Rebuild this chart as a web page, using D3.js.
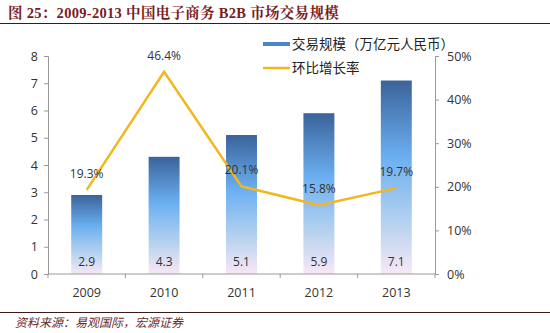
<!DOCTYPE html>
<html><head><meta charset="utf-8">
<script src="https://cdn.jsdelivr.net/npm/d3@7"></script>
<style>
body{margin:0;background:#fff;}
svg{display:block;}
</style></head><body>
<svg id="c" width="550" height="333"></svg>
<script>
const years = ["2009","2010","2011","2012","2013"];
const volume = [2.9, 4.3, 5.1, 5.9, 7.1];
const growth = [19.3, 46.4, 20.1, 15.8, 19.7];
const leftTicks = [0,1,2,3,4,5,6,7,8];
const rightTicks = [0,10,20,30,40,50];
const title = "图 25：2009-2013 中国电子商务 B2B 市场交易规模";
const source = "资料来源：易观国际，宏源证券";
const legendLabels = ["交易规模（万亿元人民币）", "环比增长率"];

const svg = d3.select("#c");
const L = 48, R = 435, T = 56, B = 274;
const numFont = "'Open Sans','Liberation Sans',sans-serif";
const cjkFont = "'Noto Sans CJK SC',sans-serif";

const x = d3.scaleBand().domain(years).range([L, R]).paddingInner(0.6).paddingOuter(0.3);
const xb = d3.scaleBand().domain(years).range([L, R]);
const yL = d3.scaleLinear().domain([0, 8]).range([B, T]);
const yR = d3.scaleLinear().domain([0, 50]).range([B, T]);

const defs = svg.append("defs");
const g = defs.append("linearGradient").attr("id","bg").attr("x1",0).attr("y1",0).attr("x2",0).attr("y2",1);
g.append("stop").attr("offset","0%").attr("stop-color","#3a639a");
g.append("stop").attr("offset","40%").attr("stop-color","#6cb0f2");
g.append("stop").attr("offset","75%").attr("stop-color","#b9d3ef");
g.append("stop").attr("offset","100%").attr("stop-color","#f8e8f6");

// title
svg.append("text").attr("x", 8).attr("y", 18)
  .attr("font-family","'Liberation Serif','Noto Serif CJK SC','Noto Sans CJK SC',serif")
  .attr("font-weight","bold").attr("font-size",14.5).attr("letter-spacing",0.3).attr("fill","#7a1c1c").text(title);
svg.append("line").attr("x1",0).attr("x2",550).attr("y1",23.5).attr("y2",23.5).attr("stroke","#3a1a1a").attr("stroke-width",1.2);

// bars
svg.selectAll("rect.bar").data(volume).enter().append("rect")
  .attr("x",(d,i)=>x(years[i])).attr("width",x.bandwidth())
  .attr("y",d=>yL(d)).attr("height",d=>B-yL(d)).attr("fill","url(#bg)");

// axes
const axL = svg.append("g").attr("transform",`translate(${L},0)`)
  .call(d3.axisLeft(yL).tickValues(leftTicks).tickSize(4).tickFormat(d3.format("d")));
const axR = svg.append("g").attr("transform",`translate(${R},0)`)
  .call(d3.axisRight(yR).tickValues(rightTicks).tickSize(4).tickFormat(d=>d+"%"));
const axX = svg.append("g").attr("transform",`translate(0,${B})`)
  .call(d3.axisBottom(xb).tickSize(0).tickPadding(14));
svg.append("g").selectAll("line").data(d3.range(years.length+1)).enter().append("line")
  .attr("x1",i=>L+i*xb.step()).attr("x2",i=>L+i*xb.step())
  .attr("y1",B).attr("y2",B+4).attr("stroke","#999");
[axL,axR,axX].forEach(a=>{
  a.selectAll("path.domain").attr("stroke","#999");
  a.selectAll(".tick line").attr("stroke","#999");
  a.selectAll("text").attr("font-family",numFont).attr("font-size",12.5).attr("fill","#333");
});
axL.selectAll("text").attr("dx",-3);
axR.selectAll("text").attr("dx",5);
axX.select("path.domain").attr("d",`M${L},0H${R}`);

// bar value labels
svg.selectAll("text.vl").data(volume).enter().append("text")
  .attr("x",(d,i)=>x(years[i])+x.bandwidth()/2).attr("y",B-8)
  .attr("text-anchor","middle").attr("font-family",numFont).attr("font-size",12).attr("fill","#333")
  .text(d=>d.toFixed(1));

// growth line
const line = d3.line().x((d,i)=>xb(years[i])+xb.bandwidth()/2).y(d=>yR(d));
svg.append("path").datum(growth).attr("d",line).attr("fill","none")
  .attr("stroke","#f2b71e").attr("stroke-width",2.5).attr("stroke-linejoin","miter");
svg.selectAll("text.gl").data(growth).enter().append("text")
  .attr("x",(d,i)=>xb(years[i])+xb.bandwidth()/2).attr("y",d=>yR(d)-12)
  .attr("text-anchor","middle").attr("font-family",numFont).attr("font-size",12).attr("fill","#333")
  .text(d=>d.toFixed(1)+"%");

// legend
const lg = svg.append("g");
const lgY = [44, 68];
const lgColor = ["#4a86c8","#f2b71e"];
lgY.forEach((yy,i)=>{
  lg.append("line").attr("x1",263).attr("x2",290).attr("y1",yy).attr("y2",yy)
    .attr("stroke",lgColor[i]).attr("stroke-width",i===0?4:2.5);
  lg.append("text").attr("x",292).attr("y",yy+5).attr("font-family",cjkFont)
    .attr("font-size",13.5).attr("fill","#222").text(legendLabels[i]);
});

// footer
svg.append("line").attr("x1",0).attr("x2",550).attr("y1",312.5).attr("y2",312.5).attr("stroke","#3a1a1a").attr("stroke-width",1);
svg.append("text").attr("x",15).attr("y",327).attr("font-family",cjkFont)
  .attr("font-style","italic").attr("font-size",12).attr("fill","#6b2a2a").text(source);
</script>
</body></html>
